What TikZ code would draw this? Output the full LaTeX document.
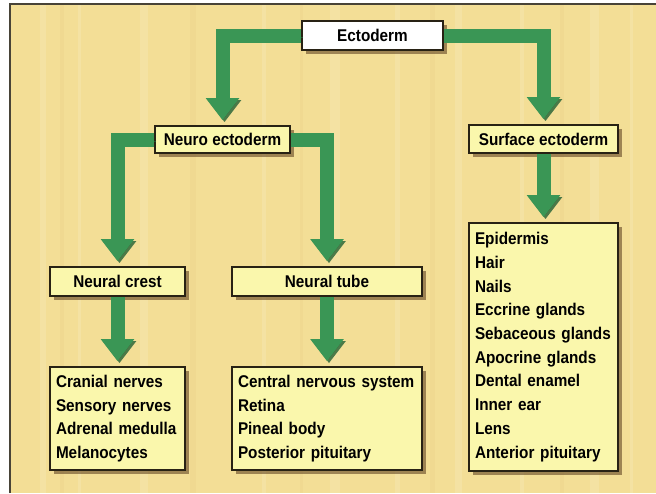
\documentclass[tikz,border=0pt]{standalone}
\usepackage{fontspec}
\setmainfont{Liberation Sans}[FakeStretch=0.9]
\usetikzlibrary{arrows.meta,shadows}

\definecolor{wood}{RGB}{243,222,150}
\definecolor{paper}{RGB}{250,247,172}
\definecolor{leaf}{RGB}{58,150,85}
\definecolor{leafdark}{RGB}{34,96,52}
\definecolor{ink}{RGB}{40,34,20}

\begin{document}
\begin{tikzpicture}[x=1pt, y=-1pt,
		label/.style={draw=ink, line width=1.7pt, fill=paper, inner sep=0pt,
			font=\bfseries\fontsize{17}{23.7}\selectfont,
			drop shadow={shadow xshift=3.5pt, shadow yshift=-3.5pt, fill=ink!60!brown, opacity=0.6}},
		list/.style={label, align=left, inner xsep=6pt},
		flow/.style={draw=leaf, line width=14pt, -{Triangle[width=32pt,length=22pt]}, shorten >=5pt,
			preaction={draw=leafdark, opacity=0.8, transform canvas={shift={(2pt,-2pt)}}}}]
		\useasboundingbox (0,0) rectangle (656,493);
		% board and its grain
		\fill[wood] (10,4) rectangle (656,493);
		\foreach \x/\w in {40/6, 78/3, 140/8, 262/4, 330/10, 395/5, 455/7, 520/4, 590/9, 630/3}
			\fill[white, opacity=0.13] (\x,4) rectangle ++(\w,489);
		\foreach \x/\w in {60/4, 190/6, 300/3, 430/5, 560/4}
			\fill[brown, opacity=0.05] (\x,4) rectangle ++(\w,489);
		\draw[ink!85, line width=2pt] (10,493) -- (10,4) -- (656,4);

		% boxes
		\node[label, fill=white, minimum width=141pt, minimum height=29pt] (ecto) at (372.5,35.5) {Ectoderm};
		\node[label, minimum width=135pt, minimum height=27pt] (neuro) at (222.5,139.5) {Neuro ectoderm};
		\node[label, minimum width=149pt, minimum height=28pt] (surface) at (543.5,139) {Surface ectoderm};
		\node[label, minimum width=135pt, minimum height=29pt] (crest) at (117.5,281.5) {Neural crest};
		\node[label, minimum width=190pt, minimum height=29pt] (tube) at (327,281.5) {Neural tube};
		\node[list, text width=123pt, minimum height=103pt] (crestlist) at (117.5,418.5)
			{Cranial nerves\\Sensory nerves\\Adrenal medulla\\Melanocytes};
		\node[list, text width=178pt, minimum height=103pt] (tubelist) at (327,418.5)
			{Central nervous system\\Retina\\Pineal body\\Posterior pituitary};
		\node[list, text width=137pt, minimum height=248pt] (surfacelist) at (543.5,347)
			{Epidermis\\Hair\\Nails\\Eccrine glands\\Sebaceous glands\\Apocrine glands\\Dental enamel\\Inner ear\\Lens\\Anterior pituitary};

		% arrows
		\draw[flow] (ecto.west) -| (neuro.north);
		\draw[flow] (ecto.east) -| (surface.north);
		\draw[flow] (neuro.west) -| (crest.north);
		\draw[flow] (neuro.east) -| (tube.north);
		\draw[flow] (crest.south) -- (crestlist.north);
		\draw[flow] (tube.south) -- (tubelist.north);
		\draw[flow] (surface.south) -- (surfacelist.north);
	\end{tikzpicture}
\end{document}
